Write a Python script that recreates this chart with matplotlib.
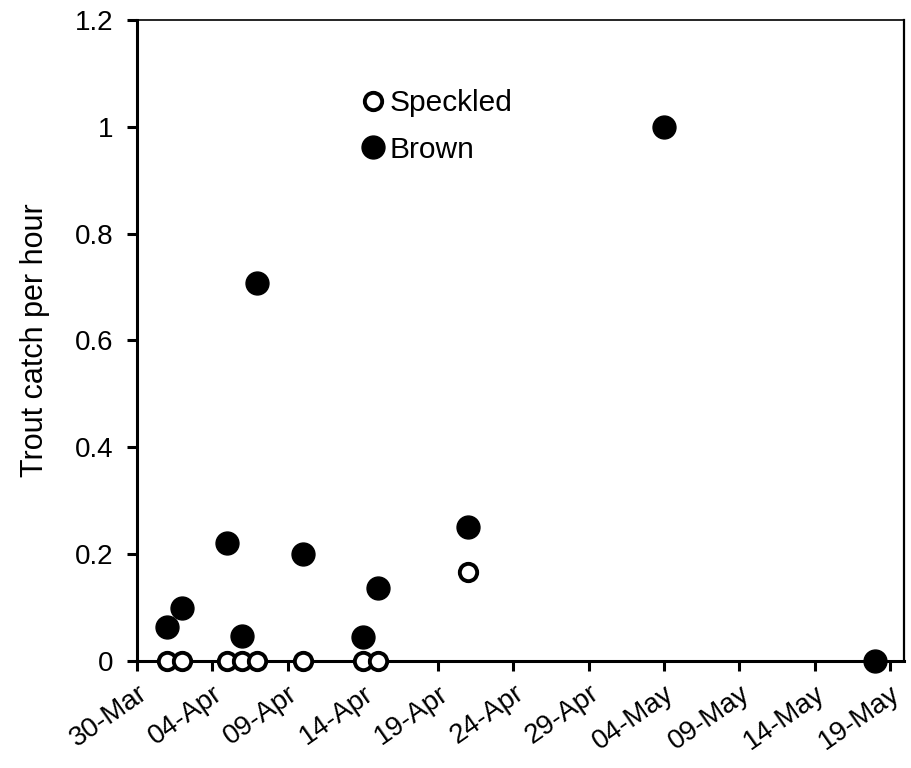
import datetime as dt
import matplotlib
matplotlib.use("Agg")
from matplotlib import pyplot as plt
import matplotlib.dates as mdates

plt.rcParams['font.family'] = ['Liberation Sans', 'DejaVu Sans']

# data
speckled_dates = ["2013-04-01", "2013-04-02", "2013-04-05", "2013-04-06", "2013-04-07",
                  "2013-04-10", "2013-04-14", "2013-04-15", "2013-04-21", "2013-05-18"]
speckled_catch = [0, 0, 0, 0, 0, 0, 0, 0, 0.167, 0]

brown_dates = ["2013-04-01", "2013-04-02", "2013-04-05", "2013-04-06", "2013-04-07",
               "2013-04-10", "2013-04-14", "2013-04-15", "2013-04-21", "2013-05-04",
               "2013-05-18"]
brown_catch = [0.064, 0.10, 0.22, 0.047, 0.708, 0.20, 0.045, 0.137, 0.25, 1.0, 0]

yticks = [0, 0.2, 0.4, 0.6, 0.8, 1, 1.2]
ytick_labels = ["0", "0.2", "0.4", "0.6", "0.8", "1", "1.2"]

def to_dates(lst):
    return [dt.datetime.strptime(s, "%Y-%m-%d") for s in lst]

fig = plt.figure(figsize=(9.11, 7.68), dpi=100)
ax = fig.add_axes([137/911, 1-661/768, (904-137)/911, (661-20)/768])

ax.plot(to_dates(speckled_dates), speckled_catch, 'o', markersize=12.5,
        markerfacecolor='white', markeredgecolor='black', markeredgewidth=2.8,
        label='Speckled', clip_on=False, zorder=3)
ax.plot(to_dates(brown_dates), brown_catch, 'o', markersize=16.5,
        markerfacecolor='black', markeredgecolor='black',
        label='Brown', clip_on=False, zorder=4)

ax.set_xlim(dt.datetime(2013, 3, 30), dt.datetime(2013, 5, 19, 22, 20))
ax.set_ylim(0, 1.2)
ax.set_yticks(yticks)
ax.set_yticklabels(ytick_labels)

xt = [dt.datetime(2013, 3, 30) + dt.timedelta(days=5*i) for i in range(11)]
ax.set_xticks(xt)
ax.xaxis.set_major_formatter(mdates.DateFormatter("%d-%b"))
for lbl in ax.get_xticklabels():
    lbl.set_rotation(35)
    lbl.set_ha('right')
    lbl.set_rotation_mode('anchor')

ax.tick_params(axis='both', direction='out', length=7, width=2.2, labelsize=20,
               colors='black')
ax.tick_params(axis='y', pad=10)
ax.tick_params(axis='x', pad=7)

ax.spines['left'].set_linewidth(2.2)
ax.spines['bottom'].set_linewidth(2.2)
ax.spines['top'].set_linewidth(1.2)
ax.spines['right'].set_linewidth(1.6)

ax.set_ylabel("Trout catch per hour", fontsize=22, labelpad=18)

leg = ax.legend(loc='upper left', bbox_to_anchor=(0.277, 0.915), frameon=False,
                fontsize=21.5, handlelength=0.6, handletextpad=0.25,
                labelspacing=0.62, markerscale=1.0, borderpad=0)

fig.savefig("out.png", dpi=100)
